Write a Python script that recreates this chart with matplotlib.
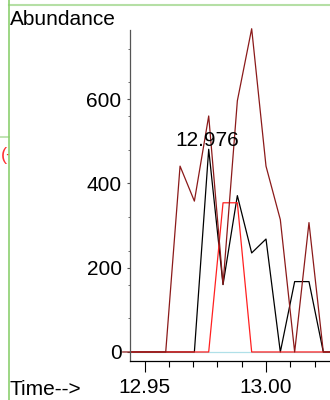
import numpy as np
import matplotlib.pyplot as plt
from matplotlib.ticker import MultipleLocator, FixedLocator
from matplotlib.lines import Line2D
from matplotlib.patches import Rectangle

plt.rcParams['font.family'] = ['Liberation Sans', 'DejaVu Sans']

# retention times (min) and abundances of the extracted ion traces
times = [12.9410, 12.9469, 12.9528, 12.9587, 12.9646, 12.9705, 12.9764, 12.9823,
         12.9882, 12.9941, 13.0000, 13.0059, 13.0118, 13.0177, 13.0236, 13.0295]
trace_darkred = [0, 0, 0, 0, 441, 358, 560, 160, 596, 767, 441, 314, 0, 307, 0, 0]
trace_black = [0, 0, 0, 0, 0, 0, 481, 160, 371, 235, 268, 0, 167, 167, 0, 0]
trace_red = [0, 0, 0, 0, 0, 0, 0, 354, 354, 0, 0, 0, 0, 0, 0, 0]
trace_cyan = [0] * len(times)

peak_time = 12.976
peak_label = '12.976'

W, H = 330, 400
fig = plt.figure(figsize=(W / 100, H / 100), dpi=100)

# leftover bits of the surrounding window
fig.text(0.5 / W, 1 - 160 / H, '(-', color='#ff3030', fontsize=13, zorder=-3)
fig.add_artist(Rectangle((9 / W, 0), 1, 1, transform=fig.transFigure,
                         facecolor='white', edgecolor='none', zorder=-2))
fig.add_artist(Line2D([0, 8.5 / W], [1 - 136.7 / H] * 2, transform=fig.transFigure,
                      color='#b5dfa5', lw=1.2, zorder=5))
fig.add_artist(Line2D([8.5 / W, 1], [1 - 5 / H] * 2, transform=fig.transFigure,
                      color='#b5dfa5', lw=1.5, zorder=5))
fig.add_artist(Line2D([8.5 / W] * 2, [0, 1], transform=fig.transFigure,
                      color='#8cd070', lw=1.2, zorder=5))

ax = fig.add_axes([129.5 / W, 1 - 361 / H, (W - 129.5) / W, (361 - 30) / H])
ax.patch.set_alpha(0)

ax.plot(times, trace_cyan, color='#b0e0e8', lw=0.9)
ax.plot(times, trace_black, color='black', lw=0.9)
ax.plot(times, trace_red, color='#ff2020', lw=0.9)
ax.plot(times, trace_darkred, color='#8b1a1a', lw=0.9, clip_on=False)

ax.text(peak_time, 489, peak_label, ha='center', va='baseline', fontsize=15)

ax.set_xlim(12.94378, 13.02636)
ax.set_ylim(-21.4, 764)

ax.xaxis.set_major_locator(FixedLocator([12.95, 13.00]))
ax.xaxis.set_minor_locator(MultipleLocator(0.01))
ax.yaxis.set_major_locator(MultipleLocator(200))
ax.yaxis.set_minor_locator(MultipleLocator(80))
ax.set_xticklabels(['12.95', '13.00'])

ax.tick_params(axis='x', which='major', length=8, width=0.8, pad=4, labelsize=15)
ax.tick_params(axis='x', which='minor', length=4, width=0.8)
ax.tick_params(axis='y', which='major', length=2.2, width=0.8, pad=3.5, labelsize=15,
               color='#555555')
ax.tick_params(axis='y', which='minor', length=1.2, width=0.6, color='#555555')

for side in ['top', 'right']:
    ax.spines[side].set_visible(False)
ax.spines['left'].set_color('#555555')
ax.spines['left'].set_linewidth(0.9)
ax.spines['bottom'].set_linewidth(0.9)

fig.text(9.5 / W, 1 - 25 / H, 'Abundance', fontsize=15, va='baseline')
fig.text(10 / W, 1 - 395 / H, 'Time-->', fontsize=15, va='baseline')

fig.savefig('out.png', dpi=100)
